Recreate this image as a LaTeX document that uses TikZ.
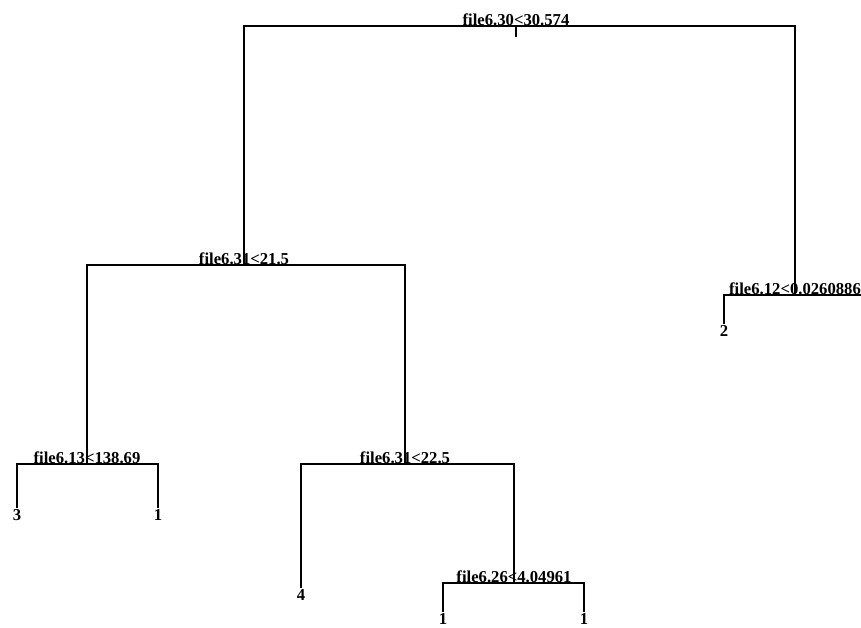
\documentclass[tikz,border=0pt]{standalone}
\usepackage{fontspec}
\setmainfont{Liberation Serif}
\usetikzlibrary{positioning}
\tikzset{
  split/.style={anchor=south,inner sep=0.3pt,font=\fontsize{12.5}{13}\selectfont\bfseries},
  leaf/.style={anchor=north,inner sep=1pt,font=\fontsize{12.5}{13}\selectfont\bfseries},
  edge/.style={line width=1.4pt},
}

\begin{document}
\begin{tikzpicture}[x=0.75pt,y=-0.75pt]
 \useasboundingbox (0,0) rectangle (861,628);
 \clip (0,0) rectangle (861,628);
 % split points (x of node, y of its bar)
 \coordinate (r)  at (519,26);
 \coordinate (n1) at (244,265);
 \coordinate (n2) at (795,295);
 \coordinate (n3) at (87,464);
 \coordinate (n4) at (405,464);
 \coordinate (n5) at (514,583);
 % leaf ends
 \coordinate (l3)  at (17,508);
 \coordinate (l1a) at (158,508);
 \coordinate (l4)  at (301,588);
 \coordinate (l1b) at (443,612);
 \coordinate (l1c) at (584,612);
 \coordinate (l2)  at (724,324);
 \coordinate (lr)  at (866,324);
 % split labels
 \node[split] (tr) at (516,26) {file6.30<30.574};
 \node[split] (t1) at (n1) {file6.31<21.5};
 \node[split] (t2) at (n2) {file6.12<0.0260886};
 \node[split] (t3) at (n3) {file6.13<138.69};
 \node[split] (t4) at (n4) {file6.31<22.5};
 \node[split] (t5) at (n5) {file6.26<4.04961};
 % leaf labels
 \node[leaf] (v3)  at (l3)  {3};
 \node[leaf] (v1a) at (l1a) {1};
 \node[leaf] (v4)  at (l4)  {4};
 \node[leaf] (v1b) at (l1b) {1};
 \node[leaf] (v1c) at (l1c) {1};
 \node[leaf] (v2)  at (l2)  {2};
 % branches
 \draw[edge] (tr.south) -- ++(0,11);
 \draw[edge] (n1) |- (r) -| (n2);
 \draw[edge] (n3) |- (n1) -| (n4);
 \draw[edge] (l3) |- (n3) -| (l1a);
 \draw[edge] (l4) |- (n4) -| (n5);
 \draw[edge] (l1b) |- (n5) -| (l1c);
 \draw[edge] (l2) |- (n2) -| (lr);
\end{tikzpicture}
\end{document}
